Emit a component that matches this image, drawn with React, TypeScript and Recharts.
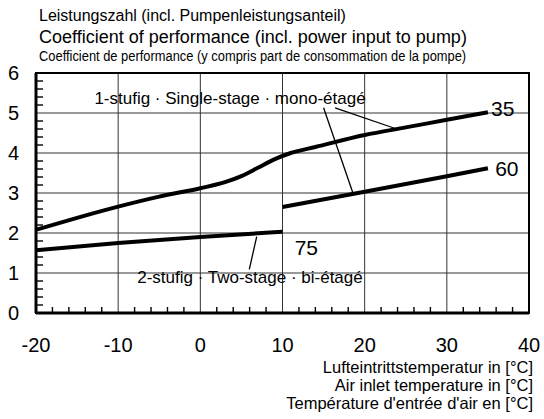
import {
  CartesianGrid,
  Line,
  LineChart,
  ReferenceArea,
  ReferenceDot,
  ReferenceLine,
  XAxis,
  YAxis,
} from "recharts";

// 1-stufig, 35 °C flow
const temps35 = [-20, -15, -10, -5, 0, 3, 5, 7, 9, 11, 14, 20, 25, 30, 35];
const cop35 = [2.08, 2.38, 2.66, 2.91, 3.12, 3.27, 3.42, 3.63, 3.84, 4.0, 4.15, 4.45, 4.64, 4.83, 5.02];
// 1-stufig, 60 °C flow
const temps60 = [10, 20, 30, 35];
const cop60 = [2.65, 3.03, 3.42, 3.62];
// 2-stufig, 75 °C flow
const temps75 = [-20, -10, 0, 10];
const cop75 = [1.57, 1.75, 1.9, 2.03];

const xTicks = [-20, -10, 0, 10, 20, 30, 40];
const yTicks = [0, 1, 2, 3, 4, 5, 6];
const xMinorTicks = [-18, -16, -14, -12, -8, -6, -4, -2, 2, 4, 6, 8, 12, 14, 16, 18, 22, 24, 26, 28, 32, 34, 36, 38];
const yMinorTicks = [
  0.2, 0.4, 0.6, 0.8, 1.2, 1.4, 1.6, 1.8, 2.2, 2.4, 2.6, 2.8, 3.2, 3.4, 3.6, 3.8, 4.2, 4.4, 4.6, 4.8, 5.2, 5.4, 5.6, 5.8,
];

const titleLines = [
  "Leistungszahl (incl. Pumpenleistungsanteil)",
  "Coefficient of performance (incl. power input to pump)",
  "Coefficient de performance (y compris part de consommation de la pompe)",
];
const xTitleLines = [
  "Lufteintrittstemperatur in [°C]",
  "Air inlet temperature in [°C]",
  "Température d'entrée d'air en [°C]",
];
const singleStageLabel = "1-stufig · Single-stage · mono-étagé";
const twoStageLabel = "2-stufig · Two-stage · bi-étagé";

const toRows = (ts: number[], vs: number[]) => ts.map((t, i) => ({ t, cop: vs[i] }));

const FONT = "'Liberation Sans', Arial, Helvetica, sans-serif";
const X_MARGIN = 25;
const Y_MARGIN = 17;

const allXTicks = [...xTicks, ...xMinorTicks].sort((a, b) => a - b);
const allYTicks = [...yTicks, ...yMinorTicks].sort((a, b) => a - b);

// labels on the major ticks, short inward ticks on the minor ones
function XTick(props: any) {
  const { x, y, payload } = props;
  if (xTicks.includes(payload.value)) {
    return (
      <text x={x} y={y} dy="0.71em" textAnchor="middle" fontSize={20} fill="#000">
        {payload.value}
      </text>
    );
  }
  const axisY = y - X_MARGIN;
  return <line x1={x} x2={x} y1={axisY} y2={axisY - 6} stroke="#000" strokeWidth={1.4} />;
}

function YTick(props: any) {
  const { x, y, payload } = props;
  if (yTicks.includes(payload.value)) {
    return (
      <text x={x} y={y} dy="0.355em" textAnchor="end" fontSize={20} fill="#000">
        {payload.value}
      </text>
    );
  }
  const axisX = x + Y_MARGIN;
  return <line x1={axisX} x2={axisX + 7} y1={y} y2={y} stroke="#000" strokeWidth={1.4} />;
}

export default function App() {
  const s35 = toRows(temps35, cop35);
  const s60 = toRows(temps60, cop60);
  const s75 = toRows(temps75, cop75);

  return (
    <div
      style={{
        position: "absolute",
        left: 0,
        top: 0,
        width: 544,
        height: 419,
        background: "#fff",
        fontFamily: FONT,
        color: "#000",
      }}
    >
      <div style={{ position: "absolute", left: 39, top: 6, fontSize: 16, lineHeight: "20px", whiteSpace: "nowrap" }}>
        {titleLines[0]}
      </div>
      <div style={{ position: "absolute", left: 39, top: 27, fontSize: 18, lineHeight: "20px", whiteSpace: "nowrap" }}>
        {titleLines[1]}
      </div>
      <div
        style={{
          position: "absolute",
          left: 39,
          top: 47,
          fontSize: 14,
          lineHeight: "18px",
          whiteSpace: "nowrap",
          transform: "scaleX(0.92)",
          transformOrigin: "left center",
        }}
      >
        {titleLines[2]}
      </div>

      <div
        style={{
          position: "absolute",
          right: 11,
          top: 358,
          fontSize: 16.5,
          lineHeight: "18px",
          textAlign: "right",
          whiteSpace: "nowrap",
        }}
      >
        {xTitleLines.map((l) => (
          <div key={l}>{l}</div>
        ))}
      </div>

      <LineChart width={544} height={419} margin={{ top: 73, right: 15, bottom: 76, left: 6 }}>
        <CartesianGrid stroke="#333" strokeWidth={1} verticalValues={xTicks} horizontalValues={yTicks} />
        <XAxis
          type="number"
          dataKey="t"
          domain={[-20, 40]}
          ticks={allXTicks}
          interval={0}
          allowDataOverflow
          tickLine={false}
          tickSize={0}
          tickMargin={X_MARGIN}
          axisLine={{ stroke: "#000", strokeWidth: 3 }}
          tick={XTick}
          height={30}
        />
        <YAxis
          type="number"
          domain={[0, 6]}
          ticks={allYTicks}
          interval={0}
          allowDataOverflow
          tickLine={false}
          tickSize={0}
          tickMargin={Y_MARGIN}
          axisLine={{ stroke: "#000", strokeWidth: 3 }}
          tick={YTick}
          width={30}
        />
        <ReferenceArea x1={-20} x2={40} y1={0} y2={6} fill="none" stroke="#000" strokeWidth={2} ifOverflow="visible" />

        <Line data={s35} dataKey="cop" type="monotone" stroke="#000" strokeWidth={4} dot={false} isAnimationActive={false} />
        <Line data={s60} dataKey="cop" type="linear" stroke="#000" strokeWidth={4} dot={false} isAnimationActive={false} />
        <Line data={s75} dataKey="cop" type="monotone" stroke="#000" strokeWidth={4} dot={false} isAnimationActive={false} />

        <ReferenceLine segment={[{ x: 16.4, y: 5.13 }, { x: 23.9, y: 4.6 }]} stroke="#000" strokeWidth={1.3} ifOverflow="visible" />
        <ReferenceLine segment={[{ x: 15.0, y: 5.13 }, { x: 18.6, y: 2.98 }]} stroke="#000" strokeWidth={1.3} ifOverflow="visible" />
        <ReferenceLine segment={[{ x: 6.86, y: 1.91 }, { x: 5.96, y: 1.09 }]} stroke="#000" strokeWidth={1.3} ifOverflow="visible" />

        <ReferenceDot x={3.61} y={5.375} r={0} fill="none" stroke="none" label={{ value: singleStageLabel, position: "center", fontSize: 17, fill: "#000" }} />
        <ReferenceDot x={6.04} y={0.9} r={0} fill="none" stroke="none" label={{ value: twoStageLabel, position: "center", fontSize: 17, fill: "#000" }} />
        <ReferenceDot x={36.8} y={5.11} r={0} fill="none" stroke="none" label={{ value: "35", position: "center", fontSize: 21, fill: "#000" }} />
        <ReferenceDot x={37.3} y={3.61} r={0} fill="none" stroke="none" label={{ value: "60", position: "center", fontSize: 21, fill: "#000" }} />
        <ReferenceDot x={12.9} y={1.64} r={0} fill="none" stroke="none" label={{ value: "75", position: "center", fontSize: 21, fill: "#000" }} />
      </LineChart>
    </div>
  );
}
